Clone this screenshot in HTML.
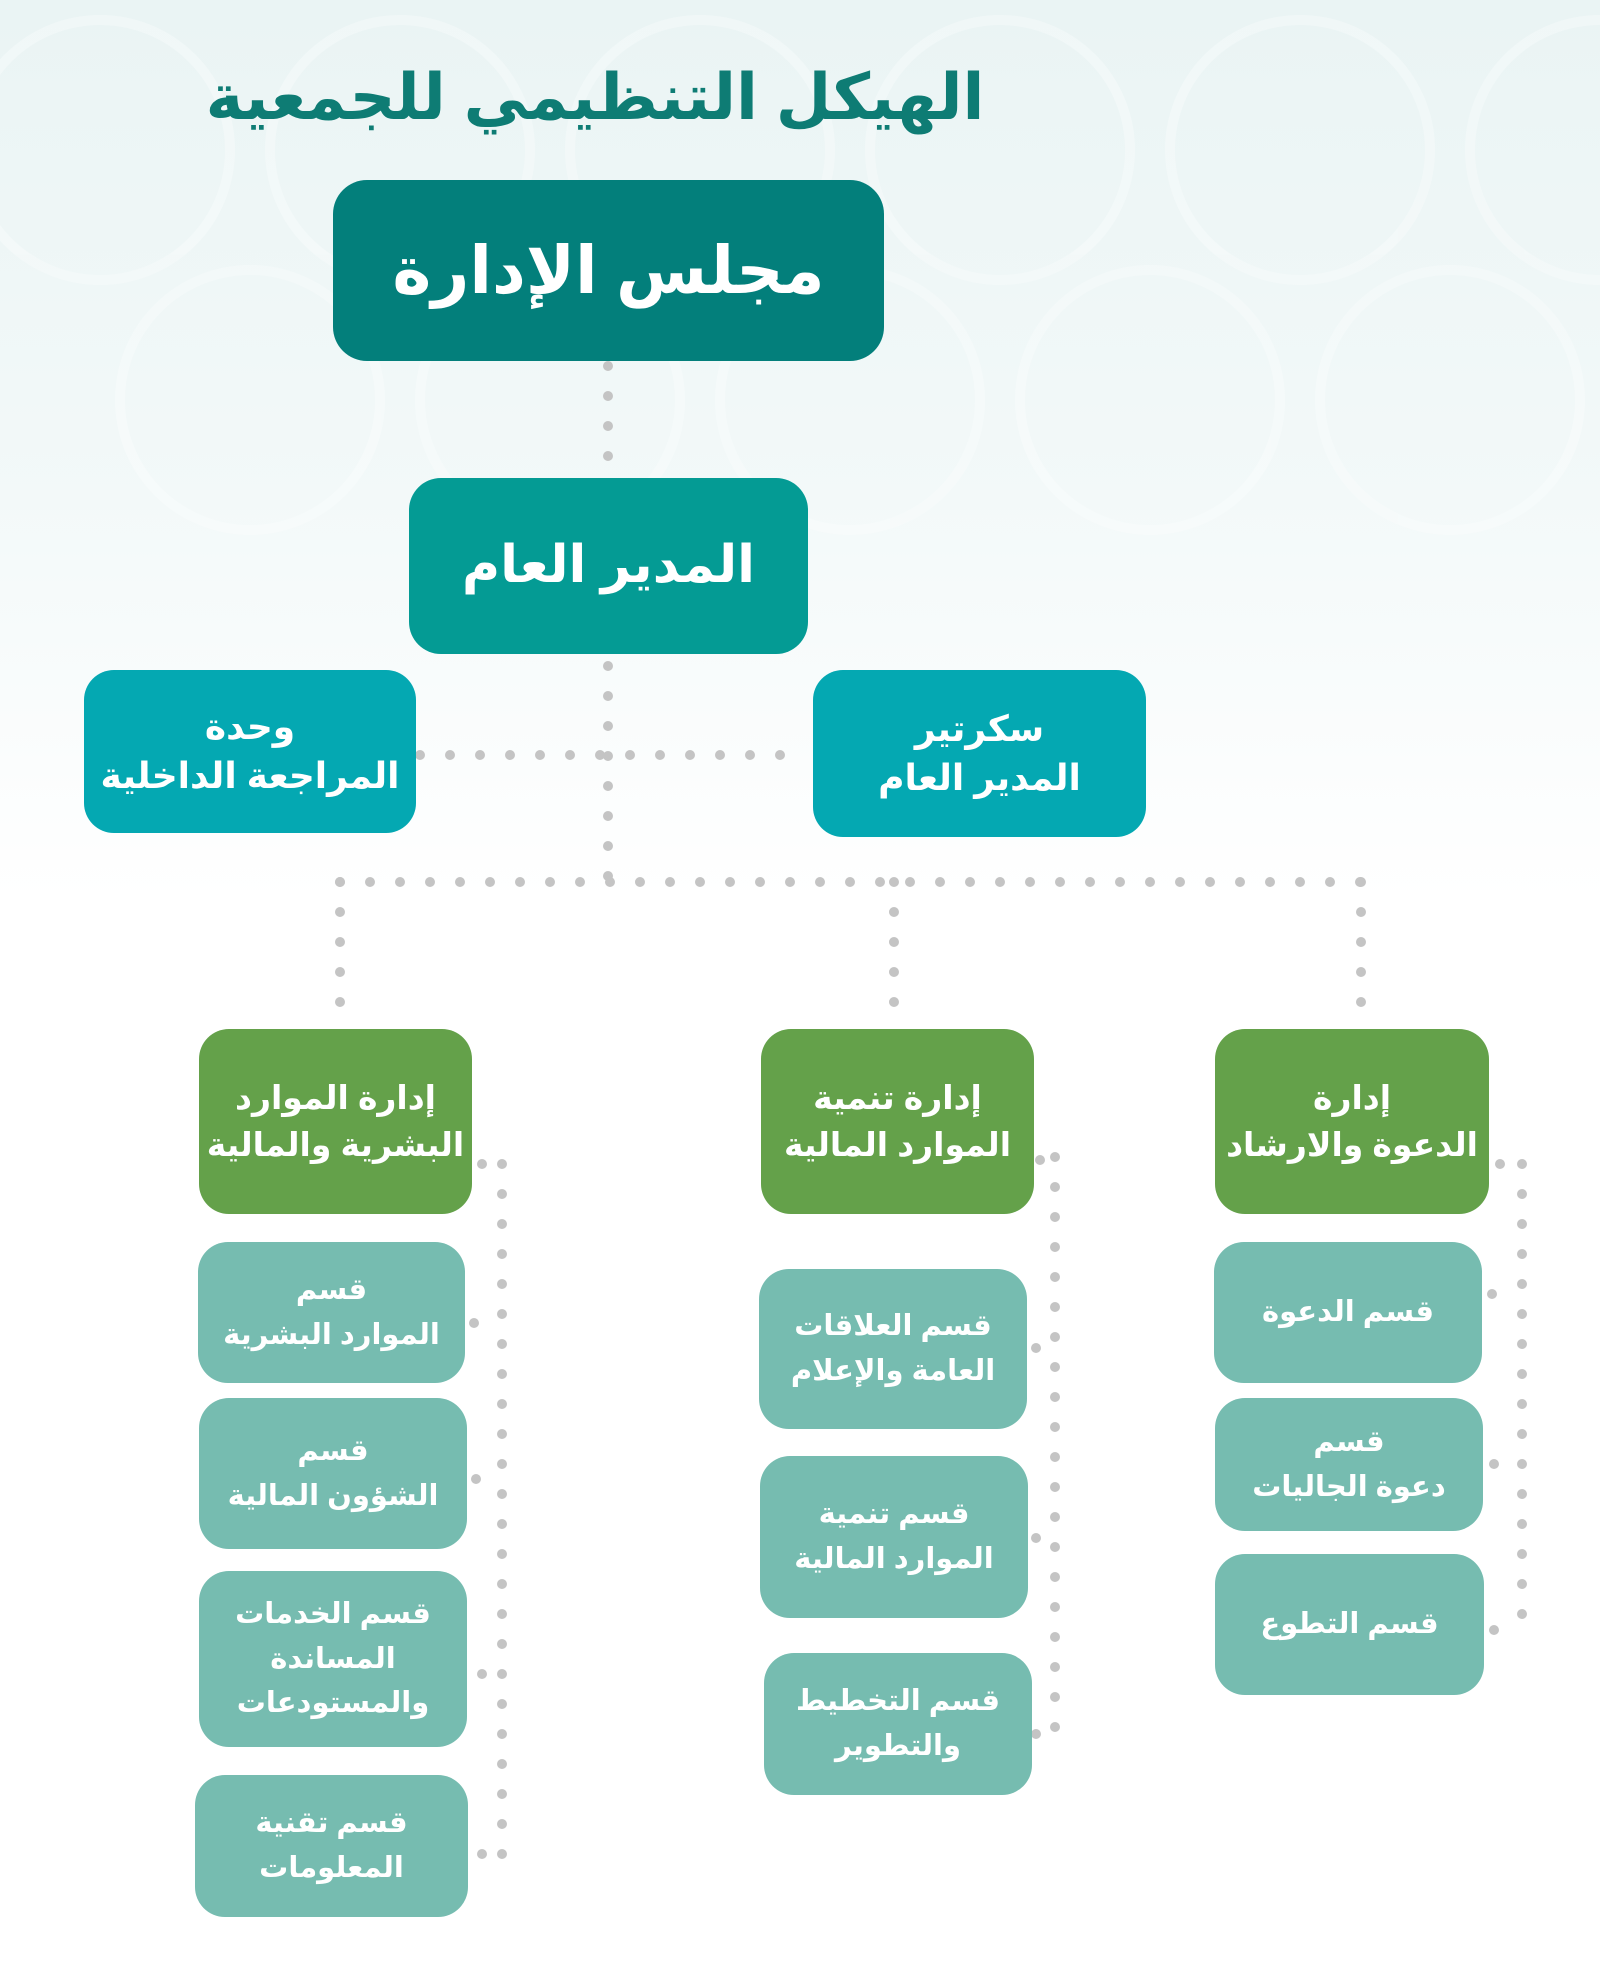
<!DOCTYPE html>
<html><head><meta charset="utf-8"><style>
body{margin:0;width:1600px;height:1973px;position:relative;overflow:hidden;font-family:"Liberation Sans","Noto Sans CJK SC","DejaVu Sans",sans-serif;background:linear-gradient(#eaf4f4 0px,#f3f9f9 500px,#ffffff 900px);}
.b{position:absolute;display:flex;align-items:center;justify-content:center;text-align:center;color:#fff;font-weight:bold;direction:rtl;line-height:1.3;box-sizing:border-box;}
.s{background:#76bcb0;border-radius:30px;font-size:29px;line-height:1.55;}
.g{background:#64a14a;border-radius:30px;font-size:33px;line-height:1.4;}
svg{position:absolute;left:0;top:0;}
</style></head><body>
<svg width="1600" height="1973">
<g fill="none" stroke="#ffffff" stroke-width="10" opacity="0.3">
<circle cx="100" cy="150" r="130"/><circle cx="400" cy="150" r="130"/><circle cx="700" cy="150" r="130"/><circle cx="1000" cy="150" r="130"/><circle cx="1300" cy="150" r="130"/><circle cx="1600" cy="150" r="130"/>
<circle cx="250" cy="400" r="130"/><circle cx="550" cy="400" r="130"/><circle cx="850" cy="400" r="130"/><circle cx="1150" cy="400" r="130"/><circle cx="1450" cy="400" r="130"/>
</g>
<g fill="none" stroke="#c4c4c4" stroke-width="10" stroke-linecap="round" stroke-dasharray="0 30">
<line x1="608" y1="366" x2="608" y2="478"/>
<line x1="608" y1="666" x2="608" y2="882"/>
<line x1="420" y1="755" x2="800" y2="755"/>
<line x1="340" y1="882" x2="1361" y2="882"/>
<line x1="340" y1="882" x2="340" y2="1019"/>
<line x1="894" y1="882" x2="894" y2="1019"/>
<line x1="1361" y1="882" x2="1361" y2="1019"/>
<line x1="502" y1="1164" x2="502" y2="1860"/>
<line x1="1055" y1="1157" x2="1055" y2="1740"/>
<line x1="1522" y1="1164" x2="1522" y2="1634"/>
</g>
<g fill="#c4c4c4">
<circle cx="482" cy="1164" r="5"/><circle cx="474" cy="1323" r="5"/><circle cx="476" cy="1479" r="5"/><circle cx="482" cy="1674" r="5"/><circle cx="482" cy="1854" r="5"/>
<circle cx="1040" cy="1160" r="5"/><circle cx="1036" cy="1348" r="5"/><circle cx="1036" cy="1538" r="5"/><circle cx="1036" cy="1734" r="5"/>
<circle cx="1500" cy="1164" r="5"/><circle cx="1492" cy="1294" r="5"/><circle cx="1494" cy="1464" r="5"/><circle cx="1494" cy="1630" r="5"/>
</g>
</svg>
<div class="b" style="left:180px;top:58px;width:830px;height:80px;color:#0e7c74;font-size:64px;">الهيكل التنظيمي للجمعية</div>
<div class="b" style="left:333px;top:180px;width:551px;height:181px;background:#037f7b;border-radius:34px;font-size:66px;">مجلس الإدارة</div>
<div class="b" style="left:409px;top:478px;width:399px;height:176px;background:#049b94;border-radius:32px;font-size:52px;">المدير العام</div>
<div class="b" style="left:84px;top:670px;width:332px;height:163px;background:#04a8b2;border-radius:30px;font-size:36px;line-height:1.35;">وحدة<br>المراجعة الداخلية</div>
<div class="b" style="left:813px;top:670px;width:333px;height:167px;background:#04a8b2;border-radius:30px;font-size:36px;line-height:1.35;">سكرتير<br>المدير العام</div>
<div class="b g" style="left:199px;top:1029px;width:273px;height:185px;">إدارة الموارد<br>البشرية والمالية</div>
<div class="b g" style="left:761px;top:1029px;width:273px;height:185px;">إدارة تنمية<br>الموارد المالية</div>
<div class="b g" style="left:1215px;top:1029px;width:274px;height:185px;">إدارة<br>الدعوة والارشاد</div>
<div class="b s" style="left:198px;top:1242px;width:267px;height:141px;">قسم<br>الموارد البشرية</div>
<div class="b s" style="left:199px;top:1398px;width:268px;height:151px;">قسم<br>الشؤون المالية</div>
<div class="b s" style="left:199px;top:1571px;width:268px;height:176px;">قسم الخدمات<br>المساندة<br>والمستودعات</div>
<div class="b s" style="left:195px;top:1775px;width:273px;height:142px;">قسم تقنية<br>المعلومات</div>
<div class="b s" style="left:759px;top:1269px;width:268px;height:160px;">قسم العلاقات<br>العامة والإعلام</div>
<div class="b s" style="left:760px;top:1456px;width:268px;height:162px;">قسم تنمية<br>الموارد المالية</div>
<div class="b s" style="left:764px;top:1653px;width:268px;height:142px;">قسم التخطيط<br>والتطوير</div>
<div class="b s" style="left:1214px;top:1242px;width:268px;height:141px;">قسم الدعوة</div>
<div class="b s" style="left:1215px;top:1398px;width:268px;height:133px;">قسم<br>دعوة الجاليات</div>
<div class="b s" style="left:1215px;top:1554px;width:269px;height:141px;">قسم التطوع</div>
</body></html>
